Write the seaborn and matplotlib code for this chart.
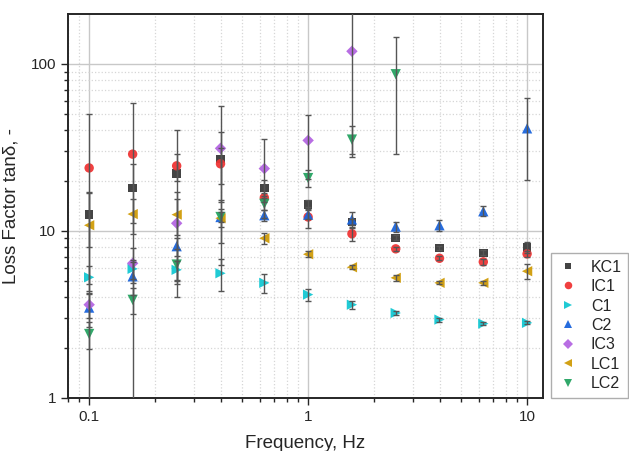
import numpy as np
import pandas as pd
import matplotlib
matplotlib.use('Agg')
import matplotlib.pyplot as plt
from matplotlib.ticker import LogLocator, FixedLocator, FixedFormatter, NullFormatter
import seaborn as sns

sns.set_style('ticks')
plt.rcParams['font.family'] = ['Liberation Sans', 'DejaVu Sans']

# frequencies (Hz), 5 points per decade
freq = [0.1, 0.158, 0.251, 0.398, 0.631, 1.0, 1.585, 2.512, 3.981, 6.31, 10.0]

# loss factor values and their errors
KC1 = [12.5, 18.1, 22.0, 26.9, 18.1, 14.4, 11.3, 9.08, 7.91, 7.38, 7.97]
KC1_err = [4.5, 7.0, 18.0, 12.0, 2.0, 0.8, 0.5, 0.3, 0.25, 0.25, 0.6]
IC1 = [23.8, 28.8, 24.5, 25.2, 15.8, 12.1, 9.6, 7.8, 6.85, 6.52, 7.28]
IC1_err = [26.5, 29.5, 4.5, 6.0, 1.0, 1.7, 0.85, 0.2, 0.2, 0.3, 0.3]
C1 = [5.27, 5.92, 5.84, 5.57, 4.88, 4.15, 3.61, 3.22, 2.94, 2.78, 2.81]
C1_err = [0.9, 0.8, 0.8, 1.2, 0.65, 0.35, 0.2, 0.1, 0.08, 0.06, 0.06]
C2 = [3.47, 5.34, 8.09, 12.1, 12.4, 12.5, 11.7, 10.6, 10.8, 13.1, 41.1]
C2_err = [0.8, 1.2, 1.0, 0.8, 1.0, 0.8, 1.2, 0.7, 0.8, 0.9, 21.0]
IC3 = [3.61, 6.39, 11.1, 31.2, 23.6, 34.8, 119.0]
IC3_err = [0.6, 1.5, 6.0, 25.0, 11.7, 14.4, 90.0]
LC1 = [10.8, 12.6, 12.5, 11.9, 9.03, 7.24, 6.05, 5.23, 4.88, 4.88, 5.73]
LC1_err = [6.0, 3.0, 3.0, 3.4, 0.7, 0.3, 0.15, 0.2, 0.1, 0.15, 0.6]
LC2 = [2.41, 3.86, 6.28, 12.1, 14.5, 20.7, 35.2, 86.7]
LC2_err = [0.45, 0.7, 1.5, 1.5, 1.2, 2.3, 7.4, 58.0]

names = ['KC1', 'IC1', 'C1', 'C2', 'IC3', 'LC1', 'LC2']
vals = [KC1, IC1, C1, C2, IC3, LC1, LC2]
errs = [KC1_err, IC1_err, C1_err, C2_err, IC3_err, LC1_err, LC2_err]

colors = {'KC1': '#3a3a3a', 'IC1': '#f03535', 'C1': '#14c8d2', 'C2': '#1a64dc',
          'IC3': '#b466e2', 'LC1': '#d09c08', 'LC2': '#26a462'}
markers = {'KC1': 's', 'IC1': 'o', 'C1': '>', 'C2': '^', 'IC3': 'D', 'LC1': '<', 'LC2': 'v'}
msizes = {'KC1': 38, 'IC1': 46, 'C1': 55, 'C2': 55, 'IC3': 34, 'LC1': 55, 'LC2': 55}

frames = []
for n, v, e in zip(names, vals, errs):
    frames.append(pd.DataFrame({'freq': freq[:len(v)], 'val': v, 'err': e, 'sample': n}))
df = pd.concat(frames, ignore_index=True)

fig = plt.figure(figsize=(6.29, 4.51), dpi=100)
ax = fig.add_axes([0.108, 0.118, 0.755, 0.851])
ax.set_xscale('log')
ax.set_yscale('log')

sns.scatterplot(data=df, x='freq', y='val', hue='sample', style='sample', size='sample',
                hue_order=names, style_order=names, size_order=names,
                palette=colors, markers=markers, sizes=msizes,
                linewidth=0, alpha=0.95, ax=ax)

for n in names:
    d = df[df['sample'] == n]
    ax.errorbar(d['freq'], d['val'], yerr=d['err'], fmt='none', ecolor='#555555',
                elinewidth=1, capsize=2.5, capthick=1, zorder=3)

ax.set_xlim(0.08, 11.8)
ax.set_ylim(1, 199)

ax.xaxis.set_major_locator(FixedLocator([0.1, 1, 10]))
ax.xaxis.set_major_formatter(FixedFormatter(['0.1', '1', '10']))
ax.xaxis.set_minor_locator(LogLocator(base=10, subs=np.arange(2, 10)))
ax.xaxis.set_minor_formatter(NullFormatter())
ax.yaxis.set_major_locator(FixedLocator([1, 10, 100]))
ax.yaxis.set_major_formatter(FixedFormatter(['1', '10', '100']))
ax.yaxis.set_minor_locator(LogLocator(base=10, subs=np.arange(2, 10)))
ax.yaxis.set_minor_formatter(NullFormatter())

ax.set_axisbelow(True)
ax.grid(which='major', color='#c8c8c8', ls='-', lw=1)
ax.grid(which='minor', color='#d6d6d6', ls=':', lw=0.9)

for sp in ax.spines.values():
    sp.set_color('#262626')
    sp.set_linewidth(1.4)
ax.tick_params(which='major', direction='out', length=5, width=1, labelsize=11, color='#262626')
ax.tick_params(which='minor', direction='out', length=3, width=1, color='#262626')

ax.set_xlabel('Frequency, Hz', fontsize=13.5, labelpad=8)
ax.set_ylabel('Loss Factor tanδ, -', fontsize=13.5, labelpad=8)

leg = ax.legend(loc='lower left', bbox_to_anchor=(1.017, 0.0), fontsize=11.5,
                frameon=True, fancybox=False, edgecolor='#9a9a9a', labelspacing=0.28,
                handletextpad=0.7, handlelength=1.4, borderpad=0.4, borderaxespad=0,
                markerscale=0.8)
leg.get_frame().set_linewidth(1)

fig.savefig('out.png', dpi=100)
